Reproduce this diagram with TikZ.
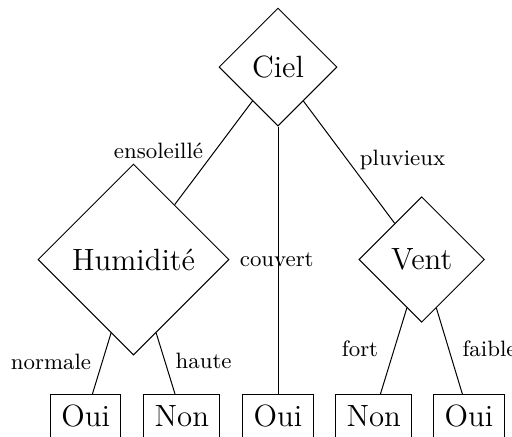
\documentclass[tikz,border=0pt]{standalone}
\usetikzlibrary{shapes.geometric}
\begin{document}
\begin{tikzpicture}[x=0.4pt,y=-0.4pt,
  dec/.style={draw, diamond, inner sep=0pt, font=\fontsize{12.3}{14}\selectfont},
  leaf/.style={draw, rectangle, inner xsep=4.4pt, inner ysep=0pt, minimum height=17.2pt, font=\fontsize{12.3}{14}\selectfont},
  lbl/.style={inner sep=0pt, font=\fontsize{8.9}{10}\selectfont, anchor=base}]
\useasboundingbox (0,0) rectangle (512,436);
\node[dec, minimum size=47.2pt] (ciel) at (278,67) {Ciel};
\node[dec, minimum size=76.4pt] (hum) at (133.5,259.5) {Humidité};
\node[dec, minimum size=50.2pt] (vent) at (421.7,259.5) {Vent};
\node[leaf] (l1) at (85.7,416) {Oui};
\node[leaf] (l2) at (181.8,416) {Non};
\node[leaf] (l3) at (278,416) {Oui};
\node[leaf] (l4) at (373.7,416) {Non};
\node[leaf] (l5) at (469,416) {Oui};
\draw (ciel) -- (hum);
\draw (ciel) -- (l3);
\draw (ciel) -- (vent);
\draw (hum) -- (l1);
\draw (hum) -- (l2);
\draw (vent) -- (l4);
\draw (vent) -- (l5);
\node[lbl] (t1) at (158.5,158.3) {ensoleillé};
\node[lbl] (t2) at (276.7,266) {couvert};
\node[lbl] (t3) at (402.5,165) {pluvieux};
\node[lbl] (t4) at (51,369.3) {normale};
\node[lbl] (t5) at (203.7,368.3) {haute};
\node[lbl] (t6) at (360,356.7) {fort};
\node[lbl, anchor=base west] (t7) at (462,356.7) {faible};
\end{tikzpicture}
\end{document}
